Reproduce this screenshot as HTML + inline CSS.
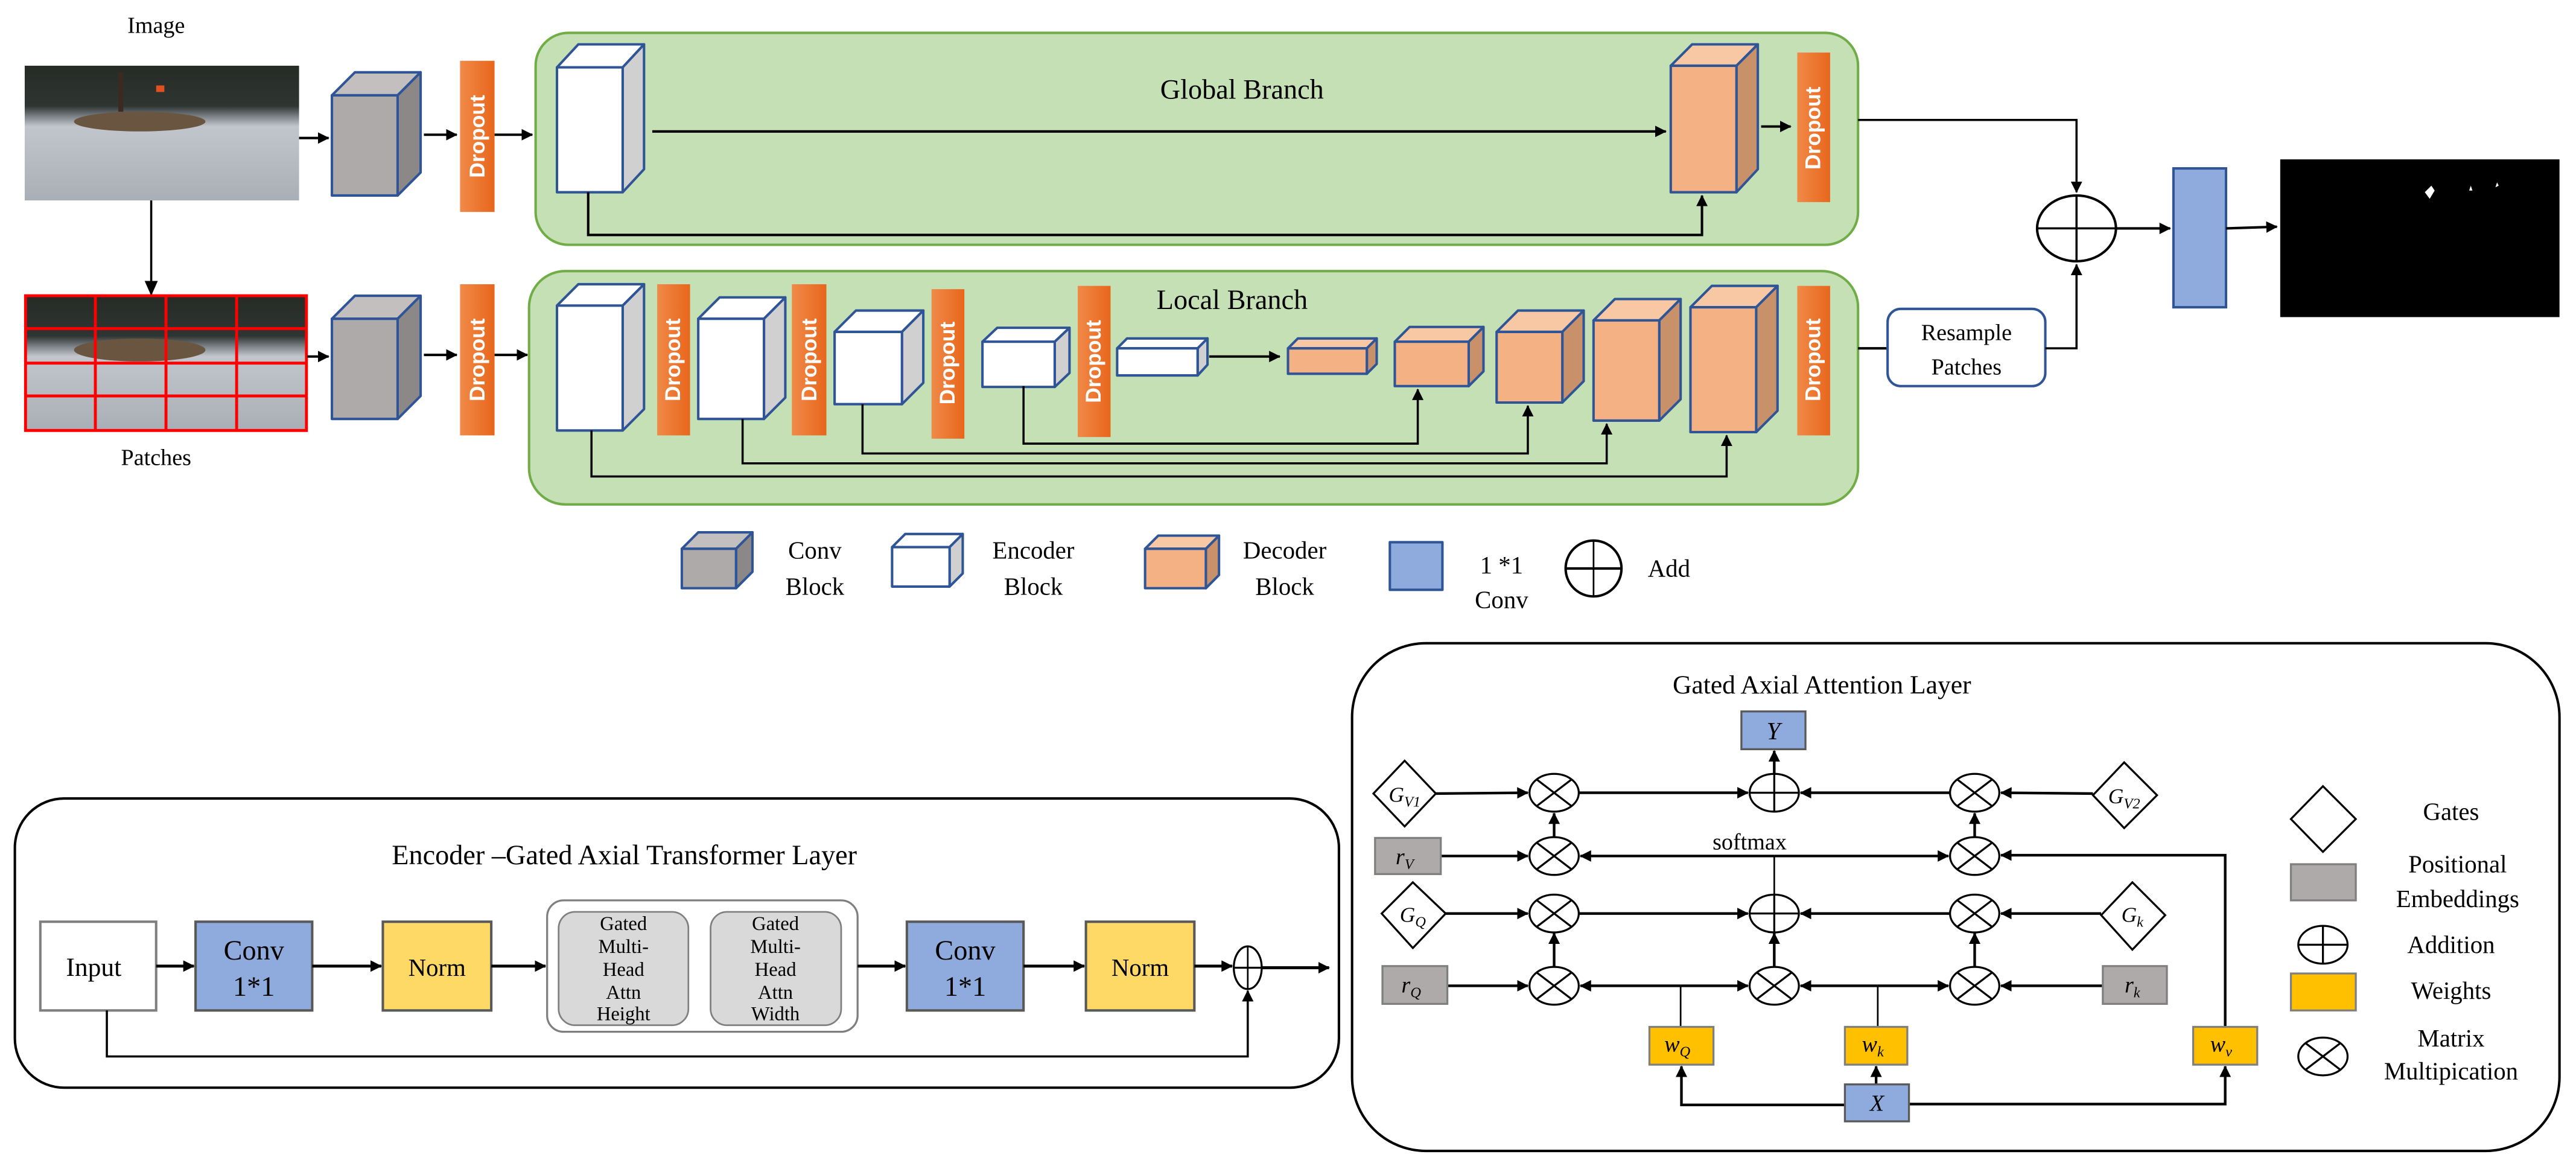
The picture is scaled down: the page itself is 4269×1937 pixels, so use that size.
<!DOCTYPE html>
<html><head><meta charset="utf-8"><style>
html,body{margin:0;padding:0;background:#fff}
svg{display:block;font-family:"Liberation Serif","Times New Roman",serif}
svg text{font-family:"Liberation Serif","Times New Roman",serif;fill:#000}
svg text.dr{font-family:"Liberation Sans",Arial,sans-serif;font-weight:bold;fill:#fff;font-size:13px}
</style></head><body>
<svg width="4269" height="1937" viewBox="0 0 1568 711.5" xmlns="http://www.w3.org/2000/svg" font-family="Liberation Serif, serif">
<defs>
<marker id="a" markerWidth="9" markerHeight="8" refX="8" refY="4" orient="auto" markerUnits="userSpaceOnUse"><path d="M0,0 L9,4 L0,8 z" fill="#000"/></marker>
<marker id="s" markerWidth="7" markerHeight="7" refX="6.5" refY="3.5" orient="auto" markerUnits="userSpaceOnUse"><path d="M0,0 L7,3.5 L0,7 z" fill="#000"/></marker>
<linearGradient id="dg" x1="0" y1="0" x2="1" y2="0"><stop offset="0" stop-color="#f08a48"/><stop offset="1" stop-color="#e8661c"/></linearGradient>
<linearGradient id="ph" x1="0" y1="0" x2="0" y2="1"><stop offset="0" stop-color="#262b26"/><stop offset="0.3" stop-color="#2f3532"/><stop offset="0.38" stop-color="#7f858b"/><stop offset="0.45" stop-color="#c2c6cc"/><stop offset="1" stop-color="#a9afb6"/></linearGradient>
</defs>

<!-- Image -->
<text x="95" y="20" font-size="14" text-anchor="middle">Image</text>
<rect x="15" y="40" width="167" height="82" fill="url(#ph)"/>
<ellipse cx="85" cy="74" rx="40" ry="6" fill="#6a5640"/>
<rect x="72" y="44" width="3" height="24" fill="#3a2a20"/>
<rect x="95" y="52" width="5" height="4" fill="#e05020"/>
<!-- arrow down -->
<line x1="92" y1="122" x2="92" y2="179" stroke="#000" stroke-width="1.3" marker-end="url(#a)"/>
<!-- Patches -->
<rect x="15" y="180" width="171" height="82" fill="url(#ph)"/>
<ellipse cx="85" cy="213" rx="40" ry="7" fill="#6a5640"/>
<g stroke="#f00" stroke-width="1.8" fill="none">
<rect x="15.5" y="180" width="171" height="82"/>
<line x1="58" y1="180" x2="58" y2="262"/><line x1="101" y1="180" x2="101" y2="262"/><line x1="144" y1="180" x2="144" y2="262"/>
<line x1="15" y1="200" x2="186" y2="200"/><line x1="15" y1="221" x2="186" y2="221"/><line x1="15" y1="241" x2="186" y2="241"/>
</g>
<text x="95" y="283" font-size="14" text-anchor="middle">Patches</text>

<!-- arrows into conv -->
<line x1="182" y1="84" x2="200" y2="84" stroke="#000" stroke-width="1.5" marker-end="url(#s)"/>
<line x1="187" y1="217" x2="200" y2="217" stroke="#000" stroke-width="1.5" marker-end="url(#s)"/>
<line x1="258" y1="82" x2="278" y2="82" stroke="#000" stroke-width="1.5" marker-end="url(#s)"/>
<line x1="258" y1="216" x2="278" y2="216" stroke="#000" stroke-width="1.5" marker-end="url(#s)"/>
<line x1="301" y1="82" x2="324" y2="82" stroke="#000" stroke-width="1.5" marker-end="url(#s)"/>
<line x1="301" y1="216" x2="321" y2="216" stroke="#000" stroke-width="1.5" marker-end="url(#s)"/>

<!-- conv cubes -->
<g stroke="#2f5597" stroke-width="1.5" stroke-linejoin="round">
<polygon points="202,58 216,44 256,44 242,58" fill="#c3bfbf"/><polygon points="242,58 256,44 256,105 242,119" fill="#8c8888"/><rect x="202" y="58" width="40" height="61" fill="#aeaaaa"/>
<polygon points="202,194 216,180 256,180 242,194" fill="#c3bfbf"/><polygon points="242,194 256,180 256,241 242,255" fill="#8c8888"/><rect x="202" y="194" width="40" height="61" fill="#aeaaaa"/>
</g>

<!-- dropouts -->
<rect x="280" y="37" width="21" height="92" fill="url(#dg)"/>
<rect x="280" y="173" width="21" height="92" fill="url(#dg)"/>
<text class="dr" transform="translate(295,83) rotate(-90)" text-anchor="middle">Dropout</text>
<text class="dr" transform="translate(295,219) rotate(-90)" text-anchor="middle">Dropout</text>

<!-- green boxes -->
<rect x="326" y="20" width="805" height="129" rx="20" fill="#c5e0b4" stroke="#70ad47" stroke-width="1.5"/>
<rect x="322" y="165" width="809" height="142" rx="22" fill="#c5e0b4" stroke="#70ad47" stroke-width="1.5"/>
<text x="756" y="60" font-size="17" text-anchor="middle">Global Branch</text>
<text x="750" y="188" font-size="17" text-anchor="middle">Local Branch</text>

<!-- global content -->
<g stroke="#2f5597" stroke-width="1.5" stroke-linejoin="round">
<polygon points="339,41 352,27 392,27 379,41" fill="#fff"/><polygon points="379,41 392,27 392,103 379,117" fill="#d0d0d0"/><rect x="339" y="41" width="40" height="76" fill="#fff"/>
<polygon points="1017,40 1030,27 1070,27 1057,40" fill="#f8c8a5"/><polygon points="1057,40 1070,27 1070,103 1057,117" fill="#c9916a"/><rect x="1017" y="40" width="40" height="77" fill="#f4b183"/>
</g>
<line x1="397" y1="80" x2="1014" y2="80" stroke="#000" stroke-width="1.5" marker-end="url(#s)"/>
<polyline points="358,117 358,143 1036,143 1036,119" fill="none" stroke="#000" stroke-width="1.5" marker-end="url(#s)"/>
<line x1="1072" y1="77" x2="1090" y2="77" stroke="#000" stroke-width="1.5" marker-end="url(#s)"/>
<rect x="1094" y="32" width="20" height="91" fill="url(#dg)"/>
<text class="dr" transform="translate(1108,78) rotate(-90)" text-anchor="middle">Dropout</text>

<!-- local content -->
<g stroke="#2f5597" stroke-width="1.5" stroke-linejoin="round">
<polygon points="339,186 352,173 392,173 379,186" fill="#fff"/><polygon points="379,186 392,173 392,249 379,262" fill="#d0d0d0"/><rect x="339" y="186" width="40" height="76" fill="#fff"/>
<polygon points="425,194 438,181 478,181 465,194" fill="#fff"/><polygon points="465,194 478,181 478,242 465,255" fill="#d0d0d0"/><rect x="425" y="194" width="40" height="61" fill="#fff"/>
<polygon points="508,202 521,189 562,189 549,202" fill="#fff"/><polygon points="549,202 562,189 562,233 549,246" fill="#d0d0d0"/><rect x="508" y="202" width="41" height="44" fill="#fff"/>
<polygon points="598,208 607,199.5 651,199.5 642,208" fill="#fff"/><polygon points="642,208 651,199.5 651,227 642,235.5" fill="#d0d0d0"/><rect x="598" y="208" width="44" height="27.5" fill="#fff"/>
<polygon points="680,212 686,206 735,206 729,212" fill="#fff"/><polygon points="729,212 735,206 735,222 729,228.5" fill="#d0d0d0"/><rect x="680" y="212" width="49" height="16.5" fill="#fff"/>

<polygon points="784,212 790,206 838,206 832,212" fill="#f8c8a5"/><polygon points="832,212 838,206 838,221.5 832,227.5" fill="#c9916a"/><rect x="784" y="212" width="48" height="15.5" fill="#f4b183"/>
<polygon points="849,208 858,199 903,199 894,208" fill="#f8c8a5"/><polygon points="894,208 903,199 903,226 894,235" fill="#c9916a"/><rect x="849" y="208" width="45" height="27" fill="#f4b183"/>
<polygon points="911,202 924,189 964,189 951,202" fill="#f8c8a5"/><polygon points="951,202 964,189 964,232 951,245" fill="#c9916a"/><rect x="911" y="202" width="40" height="43" fill="#f4b183"/>
<polygon points="970,195 983,182 1023,182 1010,195" fill="#f8c8a5"/><polygon points="1010,195 1023,182 1023,243 1010,256" fill="#c9916a"/><rect x="970" y="195" width="40" height="61" fill="#f4b183"/>
<polygon points="1029,187 1042,174 1082,174 1069,187" fill="#f8c8a5"/><polygon points="1069,187 1082,174 1082,250 1069,263" fill="#c9916a"/><rect x="1029" y="187" width="40" height="76" fill="#f4b183"/>
</g>
<rect x="400" y="173" width="20" height="92" fill="url(#dg)"/>
<rect x="482" y="173" width="21" height="92" fill="url(#dg)"/>
<rect x="567" y="176" width="20" height="91" fill="url(#dg)"/>
<rect x="656" y="174" width="20" height="92" fill="url(#dg)"/>
<rect x="1094" y="174" width="20" height="91" fill="url(#dg)"/>
<text class="dr" transform="translate(414,219) rotate(-90)" text-anchor="middle">Dropout</text>
<text class="dr" transform="translate(497,219) rotate(-90)" text-anchor="middle">Dropout</text>
<text class="dr" transform="translate(581,221) rotate(-90)" text-anchor="middle">Dropout</text>
<text class="dr" transform="translate(670,220) rotate(-90)" text-anchor="middle">Dropout</text>
<text class="dr" transform="translate(1108,219) rotate(-90)" text-anchor="middle">Dropout</text>
<line x1="736" y1="217" x2="779" y2="217" stroke="#000" stroke-width="1.5" marker-end="url(#s)"/>
<g fill="none" stroke="#000" stroke-width="1.3">
<polyline points="623,235 623,270 863,270 863,237" marker-end="url(#s)"/>
<polyline points="525,246 525,276 930,276 930,247" marker-end="url(#s)"/>
<polyline points="452,255 452,282 978,282 978,258" marker-end="url(#s)"/>
<polyline points="360,262 360,290 1051,290 1051,265" marker-end="url(#s)"/>
</g>

<!-- right side -->
<polyline points="1131,73 1264,73 1264,117" fill="none" stroke="#000" stroke-width="1.3" marker-end="url(#s)"/>
<line x1="1131" y1="212" x2="1149" y2="212" stroke="#000" stroke-width="1.5"/>
<rect x="1149" y="188" width="96" height="47" rx="8" fill="#fff" stroke="#2f5597" stroke-width="1.5"/>
<text x="1197" y="207" font-size="14" text-anchor="middle">Resample</text>
<text x="1197" y="228" font-size="14" text-anchor="middle">Patches</text>
<polyline points="1245,212 1264,212 1264,161" fill="none" stroke="#000" stroke-width="1.3" marker-end="url(#s)"/>
<ellipse cx="1264" cy="139" rx="24" ry="20" fill="#fff" stroke="#000" stroke-width="1.5"/>
<line x1="1240" y1="139" x2="1288" y2="139" stroke="#000" stroke-width="1.3"/>
<line x1="1264" y1="119" x2="1264" y2="159" stroke="#000" stroke-width="1.3"/>
<line x1="1288" y1="139" x2="1321" y2="139" stroke="#000" stroke-width="1.5" marker-end="url(#s)"/>
<rect x="1323" y="102.5" width="32" height="84.5" fill="#8faadc" stroke="#2f5597" stroke-width="1.5"/>
<line x1="1355" y1="139" x2="1386" y2="138" stroke="#000" stroke-width="1.5" marker-end="url(#s)"/>
<rect x="1388" y="97" width="170" height="96" fill="#000"/>
<path d="M1476,117 l4,-4 l2,3 l-3,5 z M1503,116 l1,-3 l1,3 z M1519,114 l1,-3 l1,2 z" fill="#fff"/>

<!-- legend -->
<g stroke="#2f5597" stroke-width="1.5" stroke-linejoin="round">
<polygon points="415,334 425,324 458,324 448,334" fill="#c3bfbf"/><polygon points="448,334 458,324 458,348 448,358" fill="#8c8888"/><rect x="415" y="334" width="33" height="24" fill="#aeaaaa"/>
<polygon points="543,333 551,325 586,325 578,333" fill="#fff"/><polygon points="578,333 586,325 586,349 578,357" fill="#d0d0d0"/><rect x="543" y="333" width="35" height="24" fill="#fff"/>
<polygon points="697,334 705,326 742,326 734,334" fill="#f8c8a5"/><polygon points="734,334 742,326 742,350 734,358" fill="#c9916a"/><rect x="697" y="334" width="37" height="24" fill="#f4b183"/>
<rect x="846" y="330" width="32" height="29" fill="#8faadc"/>
</g>
<g font-size="15">
<text x="496" y="340" text-anchor="middle">Conv</text><text x="496" y="362" text-anchor="middle">Block</text>
<text x="629" y="340" text-anchor="middle">Encoder</text><text x="629" y="362" text-anchor="middle">Block</text>
<text x="782" y="340" text-anchor="middle">Decoder</text><text x="782" y="362" text-anchor="middle">Block</text>
<text x="914" y="349" text-anchor="middle">1 *1</text><text x="914" y="370" text-anchor="middle">Conv</text>
<text x="1003" y="351">Add</text>
</g>
<ellipse cx="970" cy="346" rx="17" ry="17" fill="none" stroke="#000" stroke-width="1.5"/>
<line x1="953" y1="346" x2="987" y2="346" stroke="#000" stroke-width="1.5"/>
<line x1="970" y1="329" x2="970" y2="363" stroke="#000" stroke-width="1"/>

<!-- Encoder layer -->
<rect x="9" y="486" width="806" height="176" rx="30" fill="#fff" stroke="#000" stroke-width="1.5"/>
<text x="380" y="526" font-size="17" text-anchor="middle">Encoder –Gated Axial Transformer Layer</text>
<rect x="24.5" y="561" width="70.5" height="54" fill="#fff" stroke="#7f7f7f" stroke-width="1.5"/>
<text x="57" y="594" font-size="16" text-anchor="middle">Input</text>
<g stroke="#595959" stroke-width="1.5">
<rect x="119" y="561" width="71" height="54" fill="#8faadc"/>
<rect x="233" y="561" width="66" height="54" fill="#ffd966"/>
<rect x="552" y="561" width="71" height="54" fill="#8faadc"/>
<rect x="661" y="561" width="66" height="54" fill="#ffd966"/>
</g>
<g font-size="17" text-anchor="middle">
<text x="154.5" y="584">Conv</text><text x="154.5" y="606">1*1</text>
<text x="587.5" y="584">Conv</text><text x="587.5" y="606">1*1</text>
</g>
<text x="266" y="594" font-size="15" text-anchor="middle">Norm</text>
<text x="694" y="594" font-size="15" text-anchor="middle">Norm</text>
<rect x="333" y="548" width="189" height="80" rx="10" fill="#fff" stroke="#7f7f7f" stroke-width="1.2"/>
<rect x="340" y="555" width="79" height="69" rx="10" fill="#d9d9d9" stroke="#7f7f7f" stroke-width="1"/>
<rect x="432.5" y="555" width="79.5" height="69" rx="10" fill="#d9d9d9" stroke="#7f7f7f" stroke-width="1"/>
<g font-size="12" text-anchor="middle">
<text x="379.5" y="566">Gated</text><text x="379.5" y="580">Multi-</text><text x="379.5" y="594">Head</text><text x="379.5" y="608">Attn</text><text x="379.5" y="621">Height</text>
<text x="472" y="566">Gated</text><text x="472" y="580">Multi-</text><text x="472" y="594">Head</text><text x="472" y="608">Attn</text><text x="472" y="621">Width</text>
</g>
<g stroke="#000" stroke-width="1.8">
<line x1="95" y1="588" x2="118" y2="588" marker-end="url(#s)"/>
<line x1="190" y1="588" x2="232" y2="588" marker-end="url(#s)"/>
<line x1="299" y1="588" x2="332" y2="588" marker-end="url(#s)"/>
<line x1="522" y1="588" x2="551" y2="588" marker-end="url(#s)"/>
<line x1="623" y1="588" x2="660" y2="588" marker-end="url(#s)"/>
<line x1="727" y1="588" x2="750" y2="588" marker-end="url(#s)"/>
<line x1="768" y1="589" x2="809" y2="589" marker-end="url(#s)"/>
</g>
<ellipse cx="759.5" cy="589" rx="8.5" ry="13" fill="#fff" stroke="#000" stroke-width="1.2"/>
<line x1="751" y1="589" x2="768" y2="589" stroke="#000" stroke-width="1.2"/>
<line x1="759.5" y1="576" x2="759.5" y2="602" stroke="#000" stroke-width="1"/>
<polyline points="65,615 65,643 759.5,643 759.5,603" fill="none" stroke="#000" stroke-width="1.3" marker-end="url(#s)"/>

<!-- Gated Axial Attention Layer -->
<rect x="823" y="391.5" width="735" height="309" rx="45" fill="#fff" stroke="#000" stroke-width="1.5"/>
<text x="1109" y="422" font-size="16" text-anchor="middle">Gated Axial Attention Layer</text>
<rect x="1060" y="433" width="39" height="23" fill="#8faadc" stroke="#595959" stroke-width="1.2"/>
<text x="1079.5" y="450" font-size="15" font-style="italic" text-anchor="middle">Y</text>

<g stroke="#000" stroke-width="1.6" fill="none">
<line x1="874" y1="483" x2="930" y2="482.5" marker-end="url(#s)"/>
<line x1="961" y1="482.5" x2="1064" y2="482.5" marker-end="url(#s)"/>
<line x1="1187" y1="482.5" x2="1096" y2="482.5" marker-end="url(#s)"/>
<line x1="1274" y1="483" x2="1218" y2="482.5" marker-end="url(#s)"/>
<line x1="1080" y1="471" x2="1080" y2="457" marker-end="url(#s)"/>
<line x1="877" y1="521" x2="930" y2="521" marker-end="url(#s)"/>
<line x1="1080" y1="521" x2="962" y2="521" marker-end="url(#s)"/>
<line x1="1080" y1="521" x2="1186" y2="521" marker-end="url(#s)"/>
<polyline points="1354.5,625 1354.5,520.5 1218,520.5" marker-end="url(#s)"/>
<line x1="946" y1="509.5" x2="946" y2="495" marker-end="url(#s)"/>
<line x1="1202" y1="509.5" x2="1202" y2="495" marker-end="url(#s)"/>
<line x1="880" y1="556" x2="930" y2="556" marker-end="url(#s)"/>
<line x1="961" y1="556" x2="1064" y2="556" marker-end="url(#s)"/>
<line x1="1187" y1="556" x2="1096" y2="556" marker-end="url(#s)"/>
<line x1="1279" y1="556" x2="1218" y2="556" marker-end="url(#s)"/>
<line x1="881" y1="600" x2="930" y2="600" marker-end="url(#s)"/>
<line x1="1023" y1="600" x2="962" y2="600" marker-end="url(#s)"/>
<line x1="1023" y1="600" x2="1064" y2="600" marker-end="url(#s)"/>
<line x1="1143" y1="600" x2="1096" y2="600" marker-end="url(#s)"/>
<line x1="1143" y1="600" x2="1186" y2="600" marker-end="url(#s)"/>
<line x1="1280" y1="600" x2="1218" y2="600" marker-end="url(#s)"/>
<line x1="946" y1="588.5" x2="946" y2="568" marker-end="url(#s)"/>
<line x1="1080" y1="588.5" x2="1080" y2="568" marker-end="url(#s)"/>
<line x1="1202" y1="588.5" x2="1202" y2="568" marker-end="url(#s)"/>
<polyline points="1123,672.5 1023.5,672.5 1023.5,649" marker-end="url(#s)"/>
<line x1="1142" y1="660" x2="1142" y2="649" marker-end="url(#s)"/>
<polyline points="1162,672 1354.5,672 1354.5,649" marker-end="url(#s)"/>
</g>
<g stroke="#000" stroke-width="1" fill="none">
<line x1="1080" y1="544.5" x2="1080" y2="521"/>
<line x1="1023" y1="600" x2="1023" y2="625"/>
<line x1="1143" y1="600" x2="1143" y2="625"/>
</g>
<text x="1065" y="517" font-size="14" text-anchor="middle">softmax</text>

<g fill="#fff" stroke="#000" stroke-width="1.2">
<polygon points="855,463 874,483 855,503 836,483"/>
<polygon points="1293,464 1313,484 1293,504 1274,484"/>
<polygon points="860,537 880,556 860,577 841,556"/>
<polygon points="1298,537 1318,557 1298,578 1279,557"/>
<polygon points="1414,478.5 1434,498.5 1414,518.5 1394.5,498.5"/>
</g>
<g font-size="13" font-style="italic" text-anchor="middle">
<text x="855" y="488">G<tspan font-size="9" dy="3">V1</tspan></text>
<text x="1293" y="489">G<tspan font-size="9" dy="3">V2</tspan></text>
<text x="860" y="561">G<tspan font-size="9" dy="3">Q</tspan></text>
<text x="1298" y="561">G<tspan font-size="9" dy="3">k</tspan></text>
</g>
<g fill="#aeaaaa" stroke="#7f7f7f" stroke-width="1.2">
<rect x="837" y="510" width="40" height="22"/>
<rect x="841.5" y="588" width="39.5" height="23"/>
<rect x="1280" y="588" width="39" height="23"/>
<rect x="1394.5" y="526" width="39.5" height="22"/>
</g>
<g font-size="14" font-style="italic" text-anchor="middle">
<text x="855" y="526">r<tspan font-size="9" dy="3">V</tspan></text>
<text x="859" y="604">r<tspan font-size="9" dy="3">Q</tspan></text>
<text x="1298" y="604">r<tspan font-size="9" dy="3">k</tspan></text>
</g>
<g fill="#ffc000" stroke="#7f7f7f" stroke-width="1.2">
<rect x="1004" y="625" width="39" height="23"/>
<rect x="1123" y="625" width="38" height="23"/>
<rect x="1335" y="625" width="39" height="23"/>
<rect x="1394.5" y="592.5" width="39.5" height="22.5"/>
</g>
<g font-size="14" font-style="italic" text-anchor="middle">
<text x="1021" y="640">w<tspan font-size="9" dy="3">Q</tspan></text>
<text x="1140" y="640">w<tspan font-size="9" dy="3">k</tspan></text>
<text x="1352" y="640">w<tspan font-size="9" dy="3">v</tspan></text>
</g>
<rect x="1123" y="660" width="39" height="22.5" fill="#8faadc" stroke="#595959" stroke-width="1.2"/>
<text x="1142.5" y="676" font-size="14" font-style="italic" text-anchor="middle">X</text>

<g fill="#fff" stroke="#000" stroke-width="1.2">
<ellipse cx="946" cy="482.5" rx="15" ry="11.5"/><path d="M935.4,474.4 L956.6,490.6 M956.6,474.4 L935.4,490.6"/>
<ellipse cx="1202" cy="482.5" rx="15" ry="11.5"/><path d="M1191.4,474.4 L1212.6,490.6 M1212.6,474.4 L1191.4,490.6"/>
<ellipse cx="946" cy="521" rx="15" ry="11.5"/><path d="M935.4,512.9 L956.6,529.1 M956.6,512.9 L935.4,529.1"/>
<ellipse cx="1202" cy="521" rx="15" ry="11.5"/><path d="M1191.4,512.9 L1212.6,529.1 M1212.6,512.9 L1191.4,529.1"/>
<ellipse cx="946" cy="556" rx="15" ry="11.5"/><path d="M935.4,547.9 L956.6,564.1 M956.6,547.9 L935.4,564.1"/>
<ellipse cx="1202" cy="556" rx="15" ry="11.5"/><path d="M1191.4,547.9 L1212.6,564.1 M1212.6,547.9 L1191.4,564.1"/>
<ellipse cx="946" cy="600" rx="15" ry="11.5"/><path d="M935.4,591.9 L956.6,608.1 M956.6,591.9 L935.4,608.1"/>
<ellipse cx="1080" cy="600" rx="15" ry="11.5"/><path d="M1069.4,591.9 L1090.6,608.1 M1090.6,591.9 L1069.4,608.1"/>
<ellipse cx="1202" cy="600" rx="15" ry="11.5"/><path d="M1191.4,591.9 L1212.6,608.1 M1212.6,591.9 L1191.4,608.1"/>
<ellipse cx="1414" cy="643" rx="15" ry="11.5"/><path d="M1403.4,634.9 L1424.6,651.1 M1424.6,634.9 L1403.4,651.1"/>
<ellipse cx="1080" cy="482.5" rx="15" ry="11.5"/><path d="M1065,482.5 H1095 M1080,471 V494"/>
<ellipse cx="1080" cy="556" rx="15" ry="11.5"/><path d="M1065,556 H1095 M1080,544.5 V567.5"/>
<ellipse cx="1414" cy="575" rx="15" ry="11.5"/><path d="M1399,575 H1429 M1414,563.5 V586.5"/>
</g>
<g font-size="15" text-anchor="middle">
<text x="1492" y="499">Gates</text>
<text x="1496" y="531">Positional</text>
<text x="1496" y="552">Embeddings</text>
<text x="1492" y="580">Addition</text>
<text x="1492" y="608">Weights</text>
<text x="1492" y="637">Matrix</text>
<text x="1492" y="657">Multipication</text>
</g>
</svg>
</body></html>
